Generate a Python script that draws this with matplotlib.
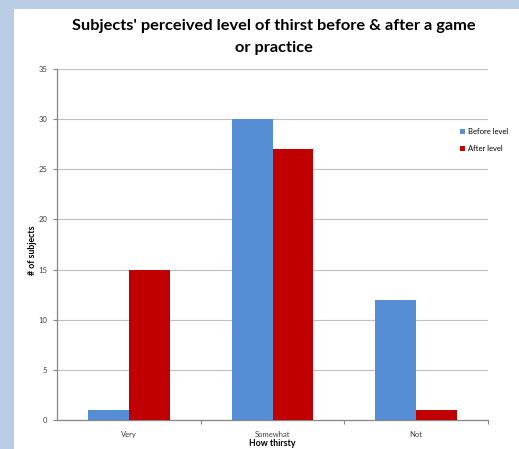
import matplotlib
matplotlib.use("Agg")
import matplotlib.pyplot as plt
import matplotlib.transforms as mtransforms
import numpy as np
from matplotlib.patches import Rectangle

categories = ["Very", "Somewhat", "Not"]
before = [1, 30, 12]
after = [15, 27, 1]
series_names = ["Before level", "After level"]
yticks = [0, 5, 10, 15, 20, 25, 30, 35]

plt.rcParams['font.family'] = ['Lato', 'DejaVu Sans']

W, H = 519, 449
fig = plt.figure(figsize=(W/100, H/100), dpi=100)
fig.patch.set_facecolor('#B9CDE5')
fig.patches.append(Rectangle((14/W, 0), 1 - 14/W, 1 - 9/H, transform=fig.transFigure,
                             facecolor='white', edgecolor='none', zorder=-5))

ax = fig.add_axes([57/W, 1 - 420/H, (488-57)/W, (420-69)/H])
ax.set_zorder(2)
ax.set_facecolor('white')
x = np.arange(len(categories))
bw = 0.285
ax.bar(x - bw/2, before, bw, color='#558ED5', label=series_names[0], zorder=3)
ax.bar(x + bw/2, after, bw, color='#C00000', label=series_names[1], zorder=3)

ax.set_xlim(-0.5, 2.5)
ax.set_ylim(0, 35)
ax.set_yticks(yticks)
ax.yaxis.grid(True, color='#BFBFBF', linewidth=0.8, zorder=0)
ax.set_axisbelow(True)
ax.set_xticks(x)
ax.set_xticklabels(categories, fontsize=5.5, color='#404040')
ax.set_xticks([0.5, 1.5, 2.5], minor=True)
ax.tick_params(axis='x', which='major', length=0, pad=8)
ax.tick_params(axis='x', which='minor', length=3, color='#868686', width=0.8)
ax.tick_params(axis='y', labelsize=5.5, labelcolor='#404040', length=3, color='#868686', width=0.8, pad=4)
for s in ['top', 'right']:
    ax.spines[s].set_visible(False)
for s in ['left', 'bottom']:
    ax.spines[s].set_color('#868686')
    ax.spines[s].set_linewidth(0.9)

ax.set_ylabel('# of subjects', fontsize=6.3, fontweight='bold', labelpad=0)
ax.yaxis.set_label_coords(37/W, 0.485,
                          transform=mtransforms.blended_transform_factory(fig.transFigure, ax.transAxes))
ax.set_xlabel('How thirsty', fontsize=6.3, fontweight='bold', va='bottom')
ax.xaxis.set_label_coords(0.5, 1.5/H,
                          transform=mtransforms.blended_transform_factory(ax.transAxes, fig.transFigure))

fig.text(0.527, 1 - 37/H, "Subjects' perceived level of thirst before & after a game\nor practice",
         ha='center', va='center', fontsize=11.8, fontweight='bold', linespacing=1.75)

ax.legend(loc='upper left', bbox_to_anchor=(460/W, 1 - 128/H), bbox_transform=fig.transFigure,
          frameon=False, fontsize=5.5, handlelength=0.7, handleheight=0.7, handletextpad=0.4,
          labelspacing=1.35, borderaxespad=0, borderpad=0)

fig.savefig('out.png', dpi=100, facecolor=fig.get_facecolor())
